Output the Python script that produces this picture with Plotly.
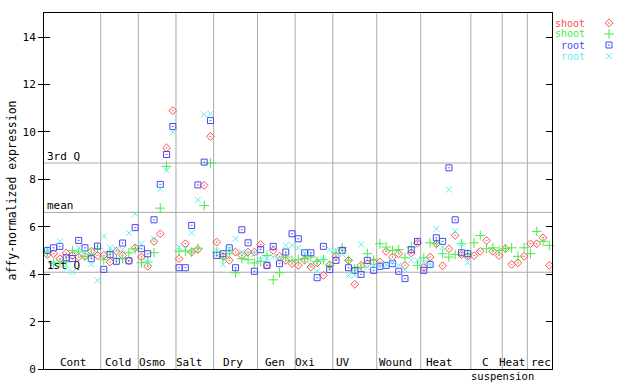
import plotly.graph_objects as go

# ---------------- data ----------------
group_names = ["Cont", "Cold", "Osmo", "Salt", "Dry", "Gen", "Oxi", "UV", "Wound", "Heat", "C", "Heat", "rec"]
group_sizes = [9, 6, 6, 6, 7, 6, 6, 7, 7, 8, 5, 4, 4]

# shoot, replicate 1 (red diamonds)
shoot_rep1 = [4.84, 4.87, 4.66, 4.90, 4.80, 4.73, 4.76, 4.97, 4.80,
              4.80, 4.52, 4.98, 4.80, 4.57, 5.12,
              4.73, 4.34, 5.39, 5.71, 9.33, 10.90,
              4.66, 5.29, 4.94, 5.05, 7.75, 9.81,
              5.36, 4.75, 4.59, 4.94, 4.80, 4.94, 4.94,
              5.26, 4.38, 5.01, 4.76, 4.59, 4.45,
              4.38, 4.60, 4.31, 4.48, 3.96, 4.40,
              4.76, 5.01, 4.59, 3.58, 4.38, 4.45, 4.52,
              4.52, 4.97, 4.73, 4.87, 4.38, 4.90, 5.32,
              4.28, 4.73, 5.29, 4.36, 5.08, 5.64, 4.83, 4.76,
              4.79, 4.97, 5.43, 4.97, 4.79,
              5.08, 4.42, 4.49, 4.76,
              5.29, 5.29, 5.54, 4.38]

# shoot, replicate 2 (green plus)
shoot_rep2 = [4.95, 4.47, 4.48, 4.52, 5.00, 4.94, 4.76, 4.85, 5.10,
              4.62, 4.95, 4.66, 4.66, 4.91, 5.08,
              4.49, 4.52, 4.91, 6.79, 8.55, None,
              4.98, 4.98, 4.94, 5.10, 6.90, 8.69,
              4.94, 4.66, 4.87, 4.07, 4.66, 4.62, 4.48,
              4.55, 4.80, 3.77, 4.07, 4.73, 4.59,
              4.62, 4.66, 4.73, 4.55, 4.62, 4.38,
              4.90, 5.12, 4.59, 4.24, 4.30, 4.87, 4.60,
              5.29, 5.15, 5.00, 5.04, 4.70, 5.15, 4.38,
              4.70, 5.33, 5.29, 4.87, 4.73, 4.84, 5.29, 4.85,
              5.33, 5.64, 5.08, 5.12, 5.01,
              5.08, 5.12, 4.76, 5.12,
              4.87, 5.81, 5.39, 5.22]

# root, replicate 1 (blue squares)
root_rep1 = [5.01, 5.12, 5.18, 4.70, 4.67, 5.43, 5.12, 4.66, 5.19,
             4.21, 4.84, 4.55, 5.32, 4.57, 5.97,
             5.08, 4.87, 6.30, 7.79, 9.05, 10.23,
             4.28, 4.28, 6.06, 7.77, 8.73, 10.48,
             4.80, 4.87, 5.12, 4.28, 5.88, 5.33, 4.13,
             5.04, 4.38, 5.18, 4.45, 4.94, 5.71,
             5.50, 4.91, 4.91, 3.86, 5.18, 4.20,
             4.59, 5.01, 4.28, 4.17, 4.00, 4.59, 4.17,
             4.34, 4.38, 4.45, 4.13, 3.82, 5.04, 5.39,
             4.17, 4.42, 5.54, 5.39, 8.49, 6.30, 4.91, 4.87,
             None, None, None, None, None,
             None, None, None, None,
             None, None, None, None]

# root, replicate 2 (cyan crosses)
root_rep2 = [5.00, 4.47, 5.39, 4.24, 4.10, 5.12, 4.94, 4.42, 3.75,
             5.60, 5.12, 5.05, 5.05, 5.74, 6.55,
             5.29, 4.52, 5.50, 7.61, 8.38, 9.99,
             5.15, 5.08, 5.75, 7.14, 10.74, 10.77,
             4.98, 4.42, 5.10, 5.50, 4.94, 4.87, 4.87,
             4.62, 4.66, 4.73, 4.70, 5.22, 5.22,
             5.12, 4.91, 4.40, 4.14, 4.62, 5.04,
             4.98, 4.85, 3.96, 3.96, 5.26, 4.30, 4.38,
             4.34, 4.40, 4.55, 4.38, 4.20, 4.59, 4.59,
             4.50, 4.42, 5.92, 5.15, 7.57, 5.82, 5.29, 4.49,
             None, None, None, None, None,
             None, None, None, None,
             None, None, None, None]

series_names = ["shoot", "shoot", "root", "root"]
quartile_labels = ["3rd Q", "mean", "1st Q"]
quartile_values = [8.69, 6.61, 4.09]
y_ticks = [0, 2, 4, 6, 8, 10, 12, 14]
y_title = "affy-normalized expression"

# ---------------- styling ----------------
W, H = 640, 384
FONT = "DejaVu Sans Mono"
colors = ["#ff4c4c", "#44ee44", "#4848f4", "#5ef0f0"]
symbols = ["diamond-open-dot", "cross-thin-open", "square-open-dot", "x-thin-open"]
sizes = [6, 7, 6, 6]
grid_col = "#aaaaaa"
label_xshift = [1, -1, -5, -5, -2.5, -1.5, -9, -12, -3, -6.5, -1, -2.5, 1]

x_dom = [44 / W, 552 / W]
y_dom = [(H - 369.3) / H, (H - 13.3) / H]
x_range = [-0.53, 80.43]

n = sum(group_sizes)
xs = list(range(n))

fig = go.Figure()
all_series = [shoot_rep1, shoot_rep2, root_rep1, root_rep2]
for vals, nm, c, s, sz in zip(all_series, series_names, colors, symbols, sizes):
    fig.add_trace(go.Scatter(
        x=xs, y=vals, mode="markers", name=nm, showlegend=False,
        marker=dict(symbol=s, size=sz, color=c, line=dict(color=c, width=1)),
        cliponaxis=False))

# dummy trace for the inner-tick overlay axis
fig.add_trace(go.Scatter(x=[None], y=[None], xaxis="x", yaxis="y2", showlegend=False))

# legend markers on an auxiliary pixel-space axis
leg_top, leg_step, leg_marker_x, leg_text_x = 23, 11, 609, 586
leg_y = [leg_top + i * leg_step for i in range(len(series_names))]
for i, (c, s, sz) in enumerate(zip(colors, symbols, sizes)):
    fig.add_trace(go.Scatter(
        x=[leg_marker_x], y=[leg_y[i]], mode="markers", xaxis="x2", yaxis="y3",
        showlegend=False, hoverinfo="skip",
        marker=dict(symbol=s, size=sz, color=c, line=dict(color=c, width=1))))

shapes = []
annotations = []

# group boundaries and labels
cum = 0
starts = []
for g in group_sizes:
    starts.append(cum)
    cum += g
bounds = [x_range[0]] + [s - 0.5 for s in starts[1:]] + [x_range[1]]
for b in bounds[1:-1]:
    shapes.append(dict(type="line", xref="x", yref="y", x0=b, x1=b, y0=0, y1=15,
                       line=dict(color=grid_col, width=1), layer="below"))
for i, name in enumerate(group_names):
    cx = (bounds[i] + bounds[i + 1]) / 2
    annotations.append(dict(x=cx, y=0, xref="x", yref="y", text=name, showarrow=False,
                            xanchor="center", yanchor="bottom", xshift=label_xshift[i], yshift=-2,
                            font=dict(family=FONT, size=11, color="black")))
    if name == "C":
        annotations.append(dict(x=cx, y=0, xref="x", yref="y", text="suspension", showarrow=False,
                                xanchor="center", yanchor="top", xshift=16, yshift=0, borderpad=0,
                                font=dict(family=FONT, size=10.5, color="black")))

# quartile lines
for lab, v in zip(quartile_labels, quartile_values):
    shapes.append(dict(type="line", xref="x domain", yref="y", x0=0, x1=1, y0=v, y1=v,
                       line=dict(color=grid_col, width=1), layer="below"))
    annotations.append(dict(x=x_dom[0] + 1 / W, y=v, xref="paper", yref="y", text=lab,
                            showarrow=False, xanchor="left", yanchor="bottom", yshift=-2,
                            font=dict(family=FONT, size=11, color="black")))

# legend text
for i, (nm, c) in enumerate(zip(series_names, colors)):
    annotations.append(dict(x=leg_text_x / W, y=(H - leg_y[i]) / H, xref="paper", yref="paper",
                            text=nm, showarrow=False, xanchor="right", yanchor="middle",
                            borderpad=0, font=dict(family=FONT, size=10, color=c)))

# y axis title
annotations.append(dict(x=11 / W, y=(H - 190.5) / H, xref="paper", yref="paper", text=y_title,
                        textangle=-90, showarrow=False, xanchor="center", yanchor="middle",
                        font=dict(family=FONT, size=11.5, color="black")))

fig.update_layout(
    template="none",
    width=W, height=H, autosize=False,
    margin=dict(l=0, r=0, t=0, b=0, pad=0),
    paper_bgcolor="white", plot_bgcolor="white",
    showlegend=False,
    xaxis=dict(domain=x_dom, range=x_range, showline=True, linecolor="black", linewidth=1,
               mirror=True, showgrid=False, zeroline=False, showticklabels=False, ticks="",
               automargin=False),
    yaxis=dict(domain=y_dom, range=[0, 15], showline=True, linecolor="black", linewidth=1,
               mirror=True, showgrid=False, zeroline=False, ticks="outside", ticklen=5,
               tickcolor="black", tickvals=y_ticks, automargin=False,
               tickfont=dict(family=FONT, size=11, color="black")),
    yaxis2=dict(overlaying="y", range=[0, 15], anchor="x", side="left", showline=True,
                linecolor="black", mirror="ticks", ticks="inside", ticklen=6, tickcolor="black",
                tickvals=y_ticks, showticklabels=False, showgrid=False, zeroline=False,
                automargin=False),
    xaxis2=dict(domain=[0.9, 1.0], range=[0.9 * W, W], anchor="y3", visible=False,
                automargin=False),
    yaxis3=dict(domain=[0, 1], range=[H, 0], anchor="x2", visible=False, automargin=False),
    shapes=shapes,
    annotations=annotations,
)

page_fix = (
    "var st=document.createElement('style');"
    "st.textContent='html,body{margin:0!important;padding:0!important;overflow:hidden!important;}';"
    "document.head.appendChild(st);"
)

fig.write_html("out.html",
               config={"displayModeBar": False, "responsive": False},
               post_script=page_fix)
